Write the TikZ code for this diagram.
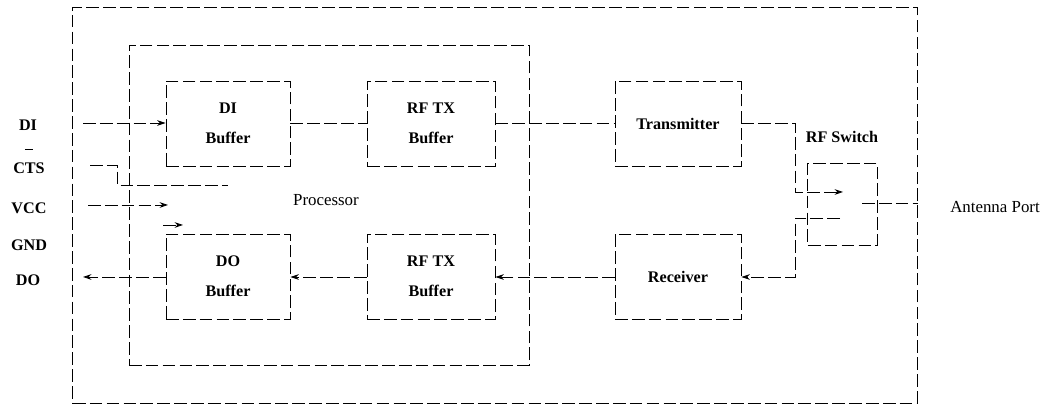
\documentclass[tikz,border=0pt]{standalone}
\usepackage{fontspec}
\setmainfont{Liberation Serif}
\usetikzlibrary{arrows.meta,positioning}

\begin{document}
\begin{tikzpicture}[x=0.025cm, y=0.025cm, >={Stealth[length=6pt,width=4pt]},
  every node/.style={font=\fontsize{12}{21}\selectfont},
  heavy/.style={font=\fontsize{11.5}{21}\selectfont\bfseries},
  wire/.style={line width=0.6pt, dash pattern=on 9pt off 3pt},
  block/.style={wire, draw, heavy, minimum width=3.15cm, minimum height=2.125cm, align=center, inner sep=0pt}]
\path[use as bounding box] (0,0) rectangle (1047,406);
% frames
\node[wire, draw, minimum width=21.1cm, minimum height=9.9cm] (module) at (495,201) {};
\node[wire, draw, minimum width=10cm, minimum height=8cm] (proc) at (329,201) {};
\node (proclbl) at (326,206) {Processor};
% blocks
\node[block, minimum width=3.1cm] (dibuf) at (228,282.5) {DI\\Buffer};
\node[block, minimum width=3.2cm] (txbuf) at (431,282.5) {RF TX\\Buffer};
\node[block] (tx) at (678,282.5) {Transmitter};
\node[block, minimum width=3.1cm] (dobuf) at (228,129.5) {DO\\Buffer};
\node[block, minimum width=3.2cm] (rxbuf) at (431,129.5) {RF TX\\Buffer};
\node[block] (rx) at (678,129.5) {Receiver};
\node[block, minimum width=1.73cm, minimum height=2.05cm] (sw) at (842.5,202) {};
\node[heavy] (swlbl) at (842,269) {RF Switch};
\node (ant) at (995,199) {Antenna Port};
% pin labels
\node[heavy] (di) at (28,281) {DI};
\node[heavy, align=center, font=\fontsize{11.5}{17}\selectfont\bfseries] (cts) at (29,245) {\rule{6pt}{0.6pt}\\CTS};
\node[heavy] (vcc) at (29,198) {VCC};
\node[heavy] (gnd) at (29,161) {GND};
\node[heavy] (do) at (28,126) {DO};
% pin wires
\coordinate (di_in) at (83,283);
\coordinate (vcc_in) at (88,201);
\coordinate (vcc_end) at (168,201);
\coordinate (gnd_in) at (163,181);
\coordinate (gnd_end) at (183,181);
\coordinate (do_out) at (83,129);
\coordinate (cts_a) at (90,241);
\coordinate (cts_b) at (117,221);
\coordinate (cts_c) at (228,221);
\draw[wire, ->] (di_in) -- (di_in -| dibuf.west);
\draw[wire, ->] (vcc_in) -- (vcc_end);
\draw[wire, ->] (gnd_in) -- (gnd_end);
\draw[wire, ->] (do_out -| dobuf.west) -- (do_out);
\draw[wire] (cts_a) -| (cts_b) -- (cts_c);
% data path
\draw[wire] (dibuf.east |- di_in) -- (txbuf.west |- di_in);
\draw[wire] (txbuf.east |- di_in) -- (tx.west |- di_in);
\draw[wire, ->] (rxbuf.west |- do_out) -- (dobuf.east |- do_out);
\draw[wire, ->] (rx.west |- do_out) -- (rxbuf.east |- do_out);
% switch
\coordinate (sw_tx) at (843,214);
\coordinate (sw_rx) at (840,188);
\coordinate (sw_ant) at (862,203);
\coordinate (bend) at (795,0);
\draw[wire, ->] (tx.east |- di_in) -| (bend |- sw_tx) -- (sw_tx);
\draw[wire, ->] (sw_rx) -| (bend |- do_out) -- (rx.east |- do_out);
\draw[wire] (sw_ant) -- (sw_ant -| module.east);
\end{tikzpicture}
\end{document}
